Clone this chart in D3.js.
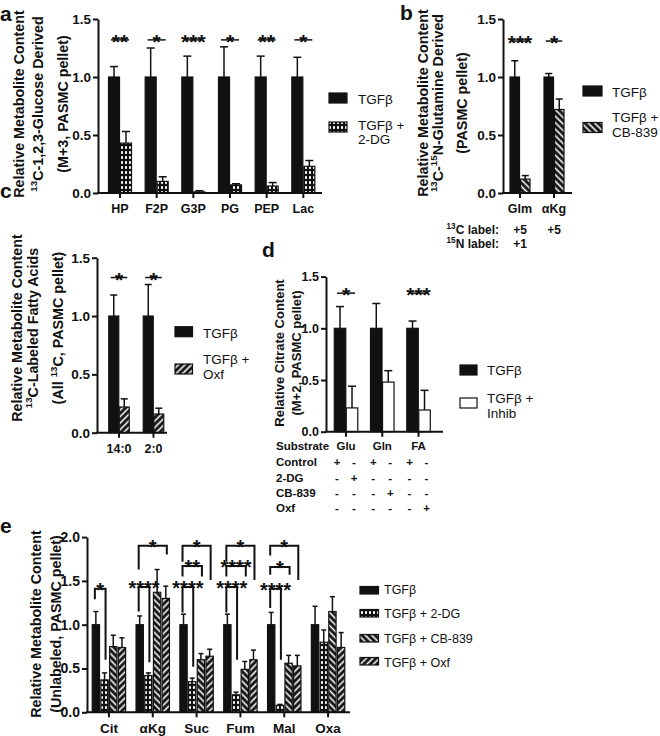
<!DOCTYPE html>
<html>
<head>
<script src="https://d3js.org/d3.v7.min.js"></script>
<style>
  body { margin: 0; background: #fff; }
  text { font-family: "Liberation Sans", Arial, Helvetica, sans-serif; fill: #111; }
</style>
</head>
<body>
<svg id="chart" width="660" height="736"></svg>
<script>
// ---- data ----
// panel a
var catsA = ["HP", "F2P", "G3P", "PG", "PEP", "Lac"];
var tgfA = [1, 1, 1, 1, 1, 1];
var tgfErrA = [1.09, 1.25, 1.18, 1.26, 1.18, 1.17];
var dgA = [0.43, 0.10, 0.01, 0.07, 0.06, 0.23];
var dgErrA = [0.53, 0.14, 0.02, 0.08, 0.09, 0.28];
var sigA = ["**", "*", "***", "*", "**", "*"];
var legA = [["TGFβ"], ["TGFβ +", "2-DG"]];

// panel b
var catsB = ["Glm", "αKg"];
var tgfB = [1, 1];
var tgfErrB = [1.14, 1.03];
var cbB = [0.12, 0.72];
var cbErrB = [0.15, 0.81];
var sigB = ["***", "*"];
var c13B = ["+5", "+5"];
var n15B = ["+1", ""];
var legB = [["TGFβ"], ["TGFβ +", "CB-839"]];

// panel c
var catsC = ["14:0", "2:0"];
var tgfC = [1, 1];
var tgfErrC = [1.18, 1.27];
var oxfC = [0.22, 0.16];
var oxfErrC = [0.29, 0.21];
var sigC = ["*", "*"];
var legC = [["TGFβ"], ["TGFβ +", "Oxf"]];

// panel d
var catsD = ["Glu", "Gln", "FA"];
var tgfD = [1, 1, 1];
var tgfErrD = [1.21, 1.24, 1.07];
var inhD = [0.23, 0.48, 0.21];
var inhErrD = [0.44, 0.59, 0.40];
var sigD = ["*", null, "***"];
var rowsD = ["Control", "2-DG", "CB-839", "Oxf"];
var signsD = [
  ["+", "-", "+", "-", "+", "-"],
  ["-", "+", "-", "-", "-", "-"],
  ["-", "-", "-", "+", "-", "-"],
  ["-", "-", "-", "-", "-", "+"]
];
var legD = [["TGFβ"], ["TGFβ +", "Inhib"]];

// panel e
var catsE = ["Cit", "αKg", "Suc", "Fum", "Mal", "Oxa"];
var tgfE = [1, 1, 1, 1, 1, 1];
var tgfErrE = [1.15, 1.10, 1.12, 1.12, 1.14, 1.21];
var dgE = [0.37, 0.42, 0.35, 0.20, 0.08, 0.80];
var dgErrE = [0.45, 0.45, 0.39, 0.23, 0.09, 0.94];
var cbE = [0.75, 1.37, 0.60, 0.49, 0.56, 1.15];
var cbErrE = [0.88, 1.63, 0.67, 0.58, 0.65, 1.32];
var oxfE = [0.74, 1.30, 0.64, 0.60, 0.53, 0.74];
var oxfErrE = [0.85, 1.44, 0.72, 0.71, 0.65, 0.91];
// brackets: category, series from/to, bar level, left leg end, right leg end, label
var bracketsE = [
  ["Cit", 0, 1, 1.41, 1.29, 0.60, "*"],
  ["αKg", 0, 1, 1.43, 1.15, 0.57, "****"],
  ["αKg", 0, 3, 1.90, 1.63, 1.80, "*"],
  ["Suc", 0, 1, 1.43, 1.14, 0.52, "****"],
  ["Suc", 0, 2, 1.67, 1.55, 1.55, "**"],
  ["Suc", 0, 3, 1.90, 1.72, 1.51, "*"],
  ["Fum", 0, 1, 1.43, 1.14, 0.60, "****"],
  ["Fum", 0, 2, 1.67, 1.55, 1.55, "****"],
  ["Fum", 0, 3, 1.90, 1.72, 1.51, "*"],
  ["Mal", 0, 1, 1.41, 1.19, 0.60, "****"],
  ["Mal", 0, 2, 1.66, 1.57, 1.57, "*"],
  ["Mal", 0, 3, 1.90, 1.79, 1.51, "*"]
];
var legE = [["TGFβ"], ["TGFβ + 2-DG"], ["TGFβ + CB-839"], ["TGFβ + Oxf"]];

// ---- setup ----
var svg = d3.select("#chart");
var defs = svg.append("defs");
var ink = "#111";

function stripes(id, angle) {
  var p = defs.append("pattern").attr("id", id)
    .attr("patternUnits", "userSpaceOnUse")
    .attr("width", 4.6).attr("height", 4.6)
    .attr("patternTransform", "rotate(" + angle + ")");
  p.append("rect").attr("width", 4.6).attr("height", 4.6).attr("fill", ink);
  p.append("rect").attr("x", 1.5).attr("width", 1.6).attr("height", 4.6).attr("fill", "#fff");
}
stripes("cb", -45);
stripes("oxf", 45);
var ck = defs.append("pattern").attr("id", "check")
  .attr("patternUnits", "userSpaceOnUse").attr("width", 4).attr("height", 5);
ck.append("rect").attr("width", 4).attr("height", 5).attr("fill", ink);
ck.append("rect").attr("x", 1).attr("y", 1).attr("width", 2).attr("height", 3)
  .attr("rx", 0.8).attr("fill", "#fff");

// text with ^NN superscripts
function rich(t, str, fs) {
  var up = false;
  str.split(/(\^\d+)/).filter(Boolean).forEach(function(s) {
    var sup = s[0] === "^";
    var ts = t.append("tspan").text(sup ? s.slice(1) : s);
    if (sup) {
      ts.attr("font-size", fs * 0.68).attr("dy", up ? 0 : -fs * 0.4);
      up = true;
    } else {
      if (up) ts.attr("dy", fs * 0.4);
      up = false;
    }
  });
}

function ylabel(lines, xs, cy, fs) {
  lines.forEach(function(l, k) {
    var t = svg.append("text")
      .attr("transform", "translate(" + xs[k] + "," + cy + ") rotate(-90)")
      .attr("text-anchor", "middle").attr("dy", "0.35em")
      .attr("font-size", fs).attr("font-weight", "bold");
    rich(t, l, fs);
  });
}

function letter(s, x, y) {
  svg.append("text").attr("x", x).attr("y", y).text(s)
    .attr("font-size", 21).attr("font-weight", "bold");
}

function legend(names, fills, x0, w, hs, ys, tx, tys, fs) {
  names.forEach(function(lines, i) {
    svg.append("rect").attr("x", x0).attr("y", ys[i]).attr("width", w).attr("height", hs)
      .attr("fill", fills[i]).attr("stroke", ink).attr("stroke-width", 1.2);
    var t = svg.append("text").attr("font-size", fs);
    lines.forEach(function(l, k) {
      t.append("tspan").attr("x", tx).attr("y", tys[i][k]).text(l);
    });
  });
}

function panel(p) {
  var g = svg.append("g");
  var x = d3.scaleBand().domain(p.cats).range(p.xr);
  var y = d3.scaleLinear().domain([0, p.ymax]).range(p.yr);
  var n = p.series.length;
  function bx(c, i) { return x(c) + x.bandwidth() / 2 + (i - (n - 1) / 2) * p.step; }

  p.series.forEach(function(s, i) {
    var sg = g.append("g");
    sg.selectAll("line.err").data(p.cats).join("line")
      .attr("x1", function(c) { return bx(c, i); })
      .attr("x2", function(c) { return bx(c, i); })
      .attr("y1", function(c, j) { return y(s.vals[j]); })
      .attr("y2", function(c, j) { return y(s.errs[j]); })
      .attr("stroke", ink).attr("stroke-width", 1.5);
    sg.selectAll("line.cap").data(p.cats).join("line")
      .attr("x1", function(c) { return bx(c, i) - p.cap / 2; })
      .attr("x2", function(c) { return bx(c, i) + p.cap / 2; })
      .attr("y1", function(c, j) { return y(s.errs[j]); })
      .attr("y2", function(c, j) { return y(s.errs[j]); })
      .attr("stroke", ink).attr("stroke-width", 1.5);
    sg.selectAll("rect").data(p.cats).join("rect")
      .attr("x", function(c) { return bx(c, i) - p.bw / 2; })
      .attr("y", function(c, j) { return y(s.vals[j]); })
      .attr("width", p.bw)
      .attr("height", function(c, j) { return y(0) - y(s.vals[j]); })
      .attr("fill", s.fill).attr("stroke", ink).attr("stroke-width", 1.2);
  });

  // axes
  var ya = g.append("g").attr("transform", "translate(" + p.ax + ",0)")
    .call(d3.axisLeft(y).tickValues(p.ticks).tickFormat(d3.format(".1f"))
      .tickSize(5).tickSizeOuter(0).tickPadding(2));
  var xa = g.append("g").attr("transform", "translate(0," + y(0) + ")")
    .call(d3.axisBottom(x).tickSize(5).tickSizeOuter(0).tickPadding(p.catPad));
  xa.select(".domain").remove();
  g.append("line").attr("x1", p.ax - 1).attr("x2", p.axEnd)
    .attr("y1", y(0)).attr("y2", y(0)).attr("stroke", ink).attr("stroke-width", 2);
  [ya, xa].forEach(function(a) {
    a.attr("font-family", null).attr("font-size", null);
    a.selectAll("path, line").attr("stroke", ink).attr("stroke-width", 2);
    a.selectAll("text").attr("font-weight", "bold").attr("fill", ink);
  });
  ya.selectAll("text").attr("font-size", p.tickFs);
  xa.selectAll("text").attr("font-size", p.catFs);

  // simple significance lines
  if (p.sig) {
    p.cats.forEach(function(c, j) {
      if (!p.sig[j]) return;
      var ly = y(p.sigLevel);
      g.append("line").attr("x1", bx(c, 0) - 3).attr("x2", bx(c, n - 1) + 3)
        .attr("y1", ly).attr("y2", ly).attr("stroke", ink).attr("stroke-width", 1.5);
      g.append("text").attr("x", x(c) + x.bandwidth() / 2).attr("y", ly + 9)
        .attr("text-anchor", "middle").attr("font-size", 21).attr("font-weight", "bold")
        .text(p.sig[j]);
    });
  }
  // bracket style significance
  if (p.brackets) {
    p.brackets.forEach(function(b) {
      var x1 = bx(b[0], b[1]) - 1, x2 = bx(b[0], b[2]) + 1;
      var path = d3.path();
      path.moveTo(x1, y(b[4]));
      path.lineTo(x1, y(b[3]));
      path.lineTo(x2, y(b[3]));
      path.lineTo(x2, y(b[5]));
      g.append("path").attr("d", path.toString()).attr("fill", "none")
        .attr("stroke", ink).attr("stroke-width", 2);
      g.append("text").attr("x", (x1 + x2) / 2).attr("y", y(b[3]) + 8)
        .attr("text-anchor", "middle").attr("font-size", 20).attr("font-weight", "bold")
        .text(b[6]);
    });
  }
  return { x: x, y: y, bx: bx };
}

// ---- panel a ----
letter("a", 0, 21);
panel({
  cats: catsA, xr: [101.67, 321.67], ax: 98, axEnd: 322,
  ymax: 1.5, yr: [193, 19], ticks: [0, 0.5, 1, 1.5],
  bw: 11, step: 12, cap: 8, tickFs: 13.5, catFs: 12.5, catPad: 6,
  series: [
    { vals: tgfA, errs: tgfErrA, fill: ink },
    { vals: dgA, errs: dgErrA, fill: "url(#check)" }
  ],
  sig: sigA, sigLevel: 1.32
});
ylabel(["Relative Metabolite Content", "^13C-1,2,3-Glucose Derived", "(M+3, PASMC pellet)"],
  [19, 43, 63], 104, 14.3);
legend(legA, [ink, "url(#check)"], 329, 18, 10, [93, 122], 358, [[104], [130, 144]], 13.5);

// ---- panel b ----
letter("b", 400, 20);
var pb = panel({
  cats: catsB, xr: [503, 571], ax: 503, axEnd: 572,
  ymax: 1.5, yr: [193, 19], ticks: [0, 0.5, 1, 1.5],
  bw: 9.5, step: 10.5, cap: 7, tickFs: 13.5, catFs: 12.5, catPad: 6,
  series: [
    { vals: tgfB, errs: tgfErrB, fill: ink },
    { vals: cbB, errs: cbErrB, fill: "url(#cb)" }
  ],
  sig: sigB, sigLevel: 1.31
});
ylabel(["Relative Metabolite Content", "^13C-^15N-Glutamine Derived", "(PASMC pellet)"],
  [423, 443, 462], 103, 14.3);
legend(legB, [ink, "url(#cb)"], 583, 19, 10, [86, 122.5], 612, [[97], [121.5, 136.5]], 13.5);
[["^13C label:", c13B, 234], ["^15N label:", n15B, 248]].forEach(function(r) {
  var t = svg.append("text").attr("x", 499).attr("y", r[2]).attr("text-anchor", "end")
    .attr("font-size", 12).attr("font-weight", "bold");
  rich(t, r[0], 12);
  catsB.forEach(function(c, j) {
    svg.append("text").attr("x", pb.x(c) + pb.x.bandwidth() / 2).attr("y", r[2])
      .attr("text-anchor", "middle").attr("font-size", 12).attr("font-weight", "bold")
      .text(r[1][j]);
  });
});

// ---- panel c ----
letter("c", 0, 198);
panel({
  cats: catsC, xr: [101.75, 170.75], ax: 97, axEnd: 167,
  ymax: 1.5, yr: [432.7, 257.7], ticks: [0, 0.5, 1, 1.5],
  bw: 10, step: 10.5, cap: 7, tickFs: 13.5, catFs: 12.5, catPad: 6,
  series: [
    { vals: tgfC, errs: tgfErrC, fill: ink },
    { vals: oxfC, errs: oxfErrC, fill: "url(#oxf)" }
  ],
  sig: sigC, sigLevel: 1.33
});
ylabel(["Relative Metabolite Content", "^13C-Labeled Fatty Acids", "(All ^13C, PASMC pellet)"],
  [17, 38, 58], 328, 14.3);
legend(legC, [ink, "url(#oxf)"], 175, 17.5, 10, [326.7, 364], 203, [[338], [364, 379]], 13.5);

// ---- panel d ----
letter("d", 262, 257);
var pd = panel({
  cats: catsD, xr: [327.9, 436.65], ax: 326, axEnd: 443,
  ymax: 1.5, yr: [431.7, 276.6], ticks: [0, 0.5, 1, 1.5],
  bw: 11.5, step: 12, cap: 8, tickFs: 12.5, catFs: 11.5, catPad: 5,
  series: [
    { vals: tgfD, errs: tgfErrD, fill: ink },
    { vals: inhD, errs: inhErrD, fill: "#fff" }
  ],
  sig: sigD, sigLevel: 1.34
});
ylabel(["Relative Citrate Content", "(M+2, PASMC pellet)"], [279, 296], 353, 13);
legend(legD, [ink, "#fff"], 460, 17, 10, [365, 398], 487, [[375], [403, 418]], 13.5);
svg.append("text").attr("x", 276).attr("y", 450).attr("font-size", 11.5)
  .attr("font-weight", "bold").text("Substrate");
rowsD.forEach(function(r, k) {
  var yy = [466, 481.5, 497, 512][k];
  svg.append("text").attr("x", 276).attr("y", yy).attr("font-size", 11.5)
    .attr("font-weight", "bold").text(r);
  signsD[k].forEach(function(s, m) {
    var c = catsD[Math.floor(m / 2)];
    var cx = pd.x(c) + pd.x.bandwidth() / 2 + (m % 2 ? 8 : -9);
    svg.append("text").attr("x", cx).attr("y", yy).attr("text-anchor", "middle")
      .attr("font-size", 11.5).attr("font-weight", "bold").text(s);
  });
});

// ---- panel e ----
letter("e", 0, 533);
panel({
  cats: catsE, xr: [87, 350], ax: 87, axEnd: 350,
  ymax: 2, yr: [712.3, 537.1], ticks: [0, 0.5, 1, 1.5, 2],
  bw: 7.3, step: 8.7, cap: 5, tickFs: 14, catFs: 13.5, catPad: 6,
  series: [
    { vals: tgfE, errs: tgfErrE, fill: ink },
    { vals: dgE, errs: dgErrE, fill: "url(#check)" },
    { vals: cbE, errs: cbErrE, fill: "url(#cb)" },
    { vals: oxfE, errs: oxfErrE, fill: "url(#oxf)" }
  ],
  brackets: bracketsE
});
ylabel(["Relative Metabolite Content", "(Unlabeled, PASMC pellet)"], [36, 56], 624, 14.3);
legend(legE, [ink, "url(#check)", "url(#cb)", "url(#oxf)"], 360, 18.5, 7.5,
  [586.5, 609.5, 634.5, 657.5], 384, [[594], [617.5], [643], [666.5]], 12.5);
</script>
</body>
</html>
